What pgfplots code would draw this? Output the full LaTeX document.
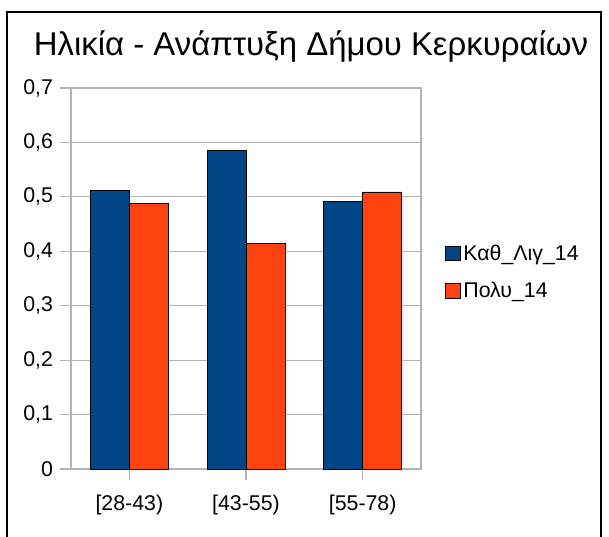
\documentclass[border=0pt]{standalone}
\usepackage{fontspec}
\setmainfont{Liberation Sans}
\usepackage{pgfplots}
\pgfplotsset{compat=1.18}
\definecolor{lobl}{RGB}{0,69,134}
\definecolor{loor}{RGB}{255,66,14}
\definecolor{gridg}{RGB}{179,179,179}

\begin{document}
\begin{tikzpicture}[x=0.75pt,y=0.75pt]
  \begin{axis}[
      scale only axis,
      width=262.5pt, height=285.75pt,
      ybar=0pt, bar width=0.334,
      xmin=-0.5, xmax=2.5,
      ymin=0, ymax=0.7,
      xtick={0,1,2},
      xticklabels={{[28-43)},{[43-55)},{[55-78)}},
      ytick={0,0.1,...,0.7},
      /pgf/number format/fixed,
      /pgf/number format/use comma,
      /pgf/number format/precision=1,
      /pgf/number format/assume math mode=true,
      tick label style={font=\fontsize{16}{18}\selectfont},
      ymajorgrids,
      grid style={gridg, line width=0.8pt},
      axis line style={gridg, line width=0.8pt},
      major tick style={gridg, line width=0.8pt},
      major tick length=8pt,
      tick align=outside,
      xtick pos=bottom, ytick pos=left,
      yticklabel style={xshift=-2pt},
      xticklabel style={yshift=-8pt},
      legend style={at={(1.057,0.517)}, anchor=west, draw=none, fill=none,
        font=\fontsize{16}{18}\selectfont, row sep=11pt},
      legend cell align=left,
      legend image code/.code={\draw[#1, bar shift=0pt] (0pt,-5.5pt) rectangle (11pt,5.5pt);},
    ]
    \addplot[draw=black, fill=lobl, line width=0.6pt] coordinates {(0,0.512) (1,0.586) (2,0.491)};
    \addlegendentry{Καθ\_Λιγ\_14}
    \addplot[draw=black, fill=loor, line width=0.6pt] coordinates {(0,0.488) (1,0.414) (2,0.509)};
    \addlegendentry{Πολυ\_14}
    \coordinate (o) at (rel axis cs:0,0);
  \end{axis}
  \pgfresetboundingbox
  % page frame in reference pixels, origin at the page's bottom-left
  \begin{scope}[shift={(o)}, shift={(-71,-67)}]
    \useasboundingbox (0,0) rectangle (609,536);
    \draw[line width=1.2pt] (7,524) rectangle (601,-20);
    \node[font=\fontsize{24.7}{28}\selectfont] at (311,489) {Ηλικία - Ανάπτυξη Δήμου Κερκυραίων};
  \end{scope}
\end{tikzpicture}
\end{document}
